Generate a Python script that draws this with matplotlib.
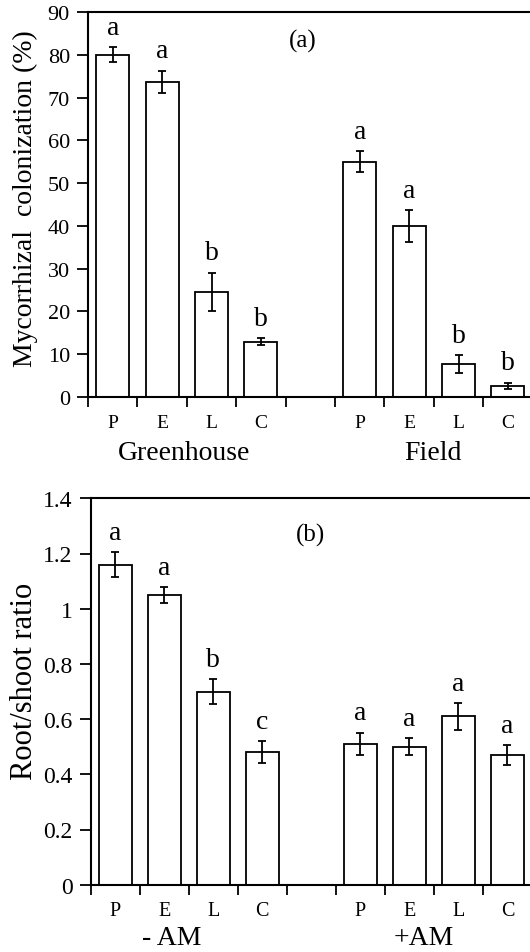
import matplotlib
matplotlib.use("Agg")
import matplotlib.pyplot as plt
import numpy as np

plt.rcParams['font.family'] = ['Liberation Serif', 'DejaVu Serif']

cats = ['P', 'E', 'L', 'C']

# Panel (a): mycorrhizal colonization (%)
groups_a = ['Greenhouse', 'Field']
col_gh = [80.0, 73.7, 24.6, 12.9]
col_gh_err = [1.8, 2.6, 4.5, 0.8]
col_gh_let = ['a', 'a', 'b', 'b']
col_field = [55.0, 40.0, 7.7, 2.6]
col_field_err = [2.4, 3.7, 2.1, 0.75]
col_field_let = ['a', 'a', 'b', 'b']
yticks_a = [0, 10, 20, 30, 40, 50, 60, 70, 80, 90]

# Panel (b): root/shoot ratio
groups_b = ['- AM', '+AM']
rs_minus = [1.16, 1.05, 0.70, 0.48]
rs_minus_err = [0.046, 0.029, 0.045, 0.04]
rs_minus_let = ['a', 'a', 'b', 'c']
rs_plus = [0.51, 0.50, 0.61, 0.47]
rs_plus_err = [0.041, 0.031, 0.048, 0.037]
rs_plus_let = ['a', 'a', 'a', 'a']
yticks_b = [0, 0.2, 0.4, 0.6, 0.8, 1.0, 1.2, 1.4]
yticklabels_b = ['0', '0.2', '0.4', '0.6', '0.8', '1', '1.2', '1.4']

W, H = 530, 953
fig = plt.figure(figsize=(W / 100, H / 100), dpi=100)


def px_axes(left, top, right, bottom):
    return fig.add_axes([left / W, 1 - bottom / H, (right - left) / W, (bottom - top) / H])


def draw_panel(ax, vals1, err1, let1, vals2, err2, let2, groups, group_x, ylim, yticks,
               yticklabels, ylabel, ylabel_xy, panel_label, panel_xy, group_y, tick_fs,
               xtick_fs, label_fs):
    x1 = np.arange(4)
    x2 = np.arange(4) + 5
    xs = np.concatenate([x1, x2])
    vals = list(vals1) + list(vals2)
    errs = list(err1) + list(err2)
    lets = list(let1) + list(let2)
    ax.bar(xs, vals, width=0.67, color='white', edgecolor='black', linewidth=1.3, zorder=2)
    ax.errorbar(xs, vals, yerr=errs, fmt='none', ecolor='black', elinewidth=1.3,
                capsize=3.2, capthick=1.3, zorder=3)
    for x, v, e, l in zip(xs, vals, errs, lets):
        ax.annotate(l, (x, v + e), xytext=(0, 9.5), textcoords='offset points',
                    ha='center', va='baseline', fontsize=20)
    ax.set_xlim(-0.5, 8.5)
    ax.set_ylim(*ylim)
    ax.set_yticks(yticks)
    ax.set_yticklabels(yticklabels if yticklabels else [str(t) for t in yticks])
    ax.set_xticks(xs)
    ax.set_xticklabels(cats * 2)
    ax.set_xticks(np.arange(-0.5, 8.6, 1.0), minor=True)
    ax.tick_params(axis='x', which='major', length=0, pad=12, labelsize=xtick_fs)
    ax.tick_params(axis='x', which='minor', length=7, width=1.3, direction='out')
    ax.tick_params(axis='y', which='major', length=8, width=1.3, direction='out', pad=5,
                   labelsize=tick_fs)
    for s in ['left', 'bottom', 'top']:
        ax.spines[s].set_linewidth(1.5)
    ax.spines['right'].set_visible(False)
    ax.set_ylabel(ylabel, fontsize=label_fs)
    ax.yaxis.set_label_coords(*ylabel_xy)
    ax.text(panel_xy[0], panel_xy[1], panel_label, transform=ax.transAxes,
            ha='center', va='center', fontsize=18)
    for gx, g in zip(group_x, groups):
        ax.text(gx, group_y, g, transform=ax.transAxes, ha='center', va='center',
                fontsize=20)


ax1 = px_axes(88, 13, 532.6, 398)
draw_panel(ax1, col_gh, col_gh_err, col_gh_let, col_field, col_field_err, col_field_let,
           groups_a, (0.215, 0.775), (0, 90), yticks_a, None,
           'Mycorrhizal  colonization (%)',
           (-0.112, 0.517), '(a)', (0.4836, 0.925), -0.145, 16, 14, 20)

ax2 = px_axes(90.7, 499.3, 532, 885.7)
draw_panel(ax2, rs_minus, rs_minus_err, rs_minus_let, rs_plus, rs_plus_err, rs_plus_let,
           groups_b, (0.184, 0.754), (0, 1.4), yticks_b, yticklabels_b, 'Root/shoot ratio',
           (-0.117, 0.528), '(b)', (0.497, 0.9076), -0.136, 17, 14.5, 22)

fig.savefig('out.png', dpi=100)
